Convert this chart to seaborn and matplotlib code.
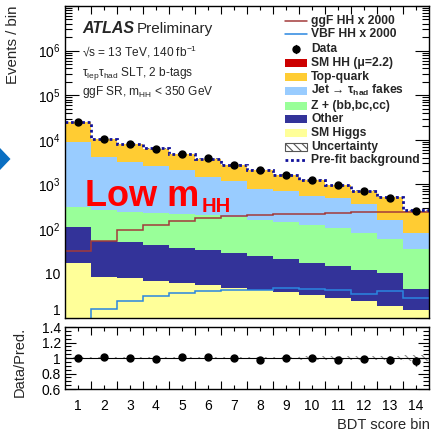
import numpy as np
import pandas as pd
import seaborn as sns
import matplotlib
matplotlib.use("Agg")
import matplotlib.pyplot as plt
from matplotlib.patches import Rectangle, Polygon
from matplotlib.lines import Line2D
from matplotlib.ticker import FixedLocator, MultipleLocator, LogLocator, NullFormatter

# BDT score bins and the yields
bins = list(range(1, 15))
top_quark = [15980, 6290, 4840, 3720, 2720, 2300, 1592, 1357, 945, 728, 485, 368, 365, 176]
jet_fakes = [8502, 3942, 3004, 2406, 1888, 1293, 1011, 633, 573, 428, 386, 279, 100, 47]
z_hf = [208, 214, 196, 190, 184, 173, 158, 136, 121, 107, 89, 68, 50, 31]
other = [93, 45, 43, 37, 32, 28, 24, 20, 17, 14, 12, 10, 8.3, 3.0]
sm_higgs = [17.1, 8.6, 7.9, 7.0, 6.3, 5.6, 4.7, 4.4, 3.8, 3.3, 2.9, 2.4, 1.9, 1.5]
sm_hh = [0.04, 0.06, 0.1, 0.14, 0.17, 0.2, 0.22, 0.23, 0.24, 0.25, 0.26, 0.27, 0.27, 0.28]
ggf_hh = [32, 54, 96, 124, 152, 180, 197, 207, 218, 222, 230, 238, 242, 246]
vbf_hh = [0.97, 1.6, 2.5, 3.1, 3.6, 4.0, 4.3, 4.2, 4.7, 4.5, 4.2, 3.5, 4.0, 2.8]
data = [24800, 10690, 8090, 6250, 4870, 3850, 2790, 2085, 1655, 1285, 949, 718, 509, 248]
prefit = [24900, 10500, 8100, 6400, 4850, 3800, 2800, 2150, 1670, 1280, 980, 730, 525, 262]
unc_rel = [0.01, 0.01, 0.01, 0.012, 0.012, 0.013, 0.015, 0.015, 0.017, 0.02, 0.022, 0.028, 0.032, 0.04]

processes = ["SM HH", "Top-quark", "Jet fakes", "Z+hf", "Other", "SM Higgs"]
colors = {"SM HH": "#cc0000", "Top-quark": "#ffcc33", "Jet fakes": "#99ccff",
          "Z+hf": "#99ff99", "Other": "#333399", "SM Higgs": "#ffff99"}
yields = {"SM HH": sm_hh, "Top-quark": top_quark, "Jet fakes": jet_fakes,
          "Z+hf": z_hf, "Other": other, "SM Higgs": sm_higgs}

rows = []
for p in processes:
    for b, v in zip(bins, yields[p]):
        rows.append({"bin": b, "events": v, "process": p})
df = pd.DataFrame(rows)

edges = np.arange(0.5, 15.0, 1.0)
total = np.sum([yields[p] for p in processes], axis=0)

sns.set_style("ticks")
plt.rcParams['font.family'] = ['Liberation Sans', 'DejaVu Sans']
plt.rcParams['mathtext.fontset'] = 'custom'
plt.rcParams['mathtext.rm'] = 'Liberation Sans'
plt.rcParams['mathtext.it'] = 'Liberation Sans:italic'
plt.rcParams['mathtext.bf'] = 'Liberation Sans:bold'
plt.rcParams['hatch.linewidth'] = 0.8

W, H = 433, 436
fig = plt.figure(figsize=(W / 100, H / 100), dpi=100)


def fig_box(x0, y0, x1, y1):
    return [x0 / W, 1 - y1 / H, (x1 - x0) / W, (y1 - y0) / H]


ax = fig.add_axes(fig_box(65, 6, 429, 318.3))
ax_r = fig.add_axes(fig_box(65, 327, 429, 389), sharex=ax)

# stacked backgrounds
sns.histplot(data=df, x="bin", weights="events", hue="process", hue_order=processes,
             palette=colors, multiple="stack", bins=list(edges), element="bars",
             alpha=1, linewidth=0, antialiased=False, legend=False, ax=ax)
ax.set_yscale("log")

ax.stairs(total * (1 + np.array(unc_rel)), edges, baseline=total * (1 - np.array(unc_rel)),
          fill=True, facecolor="none", edgecolor="#666666", hatch="\\\\\\\\", lw=0)
ax.stairs(ggf_hh, edges, baseline=None, color="#a33a3a", lw=1.1)
ax.stairs(vbf_hh, edges, baseline=None, color="#2a86e0", lw=1.1)
ax.stairs(prefit, edges, baseline=None, color="#10109a", lw=2.0, linestyle=(0, (1, 1)))
ax.errorbar(bins, data, yerr=np.sqrt(data), fmt="o", color="black", ms=5, lw=1, capsize=0, zorder=5)

ax.set_xlim(0.5, 14.5)
ax.set_ylim(1, 1e7)
ax.set_xlabel("")
ax.set_ylabel("")

# ratio panel
ratio = np.array(data) / total
ratio_err = np.sqrt(data) / total
ax_r.stairs(1 + np.array(unc_rel), edges, baseline=1 - np.array(unc_rel), fill=True,
            facecolor="none", edgecolor="#888888", hatch="\\\\\\\\", lw=0)
ax_r.axhline(1, color="black", lw=0.8)
ax_r.errorbar(bins, ratio, yerr=ratio_err, fmt="o", color="black", ms=5, lw=1, capsize=0, zorder=5)
ax_r.set_ylim(0.6, 1.4)
ax_r.set_ylabel("")
ax_r.set_xlabel("")

for a in (ax, ax_r):
    for s in a.spines.values():
        s.set_linewidth(1.0)
        s.set_color("black")
    a.tick_params(which="both", direction="in", top=True, right=True, colors="black", width=0.8)
    a.xaxis.set_major_locator(FixedLocator(bins))
    a.xaxis.set_minor_locator(FixedLocator(edges[1:-1]))
    a.tick_params(axis="x", which="major", length=3)
    a.tick_params(axis="x", which="minor", length=6)

ax.tick_params(axis="x", labelbottom=False)
ax.yaxis.set_major_locator(FixedLocator([1, 10, 1e2, 1e3, 1e4, 1e5, 1e6, 1e7]))
ax.set_yticklabels(["1", "10", "$10^{2}$", "$10^{3}$", "$10^{4}$", "$10^{5}$", "$10^{6}$", ""])
ax.get_yticklabels()[0].set_va("bottom")
ax.yaxis.set_minor_locator(LogLocator(base=10, subs=np.arange(2, 10), numticks=20))
ax.yaxis.set_minor_formatter(NullFormatter())
ax.tick_params(axis="y", which="major", length=10, labelsize=10, pad=3)
ax.tick_params(axis="y", which="minor", length=5)

ax_r.yaxis.set_major_locator(FixedLocator([0.6, 0.8, 1.0, 1.2, 1.4]))
ax_r.set_yticklabels(["0.6", "0.8", "1", "1.2", "1.4"])
ax_r.yaxis.set_minor_locator(MultipleLocator(0.05))
ax_r.tick_params(axis="y", which="major", length=8, labelsize=10, pad=3)
ax_r.tick_params(axis="y", which="minor", length=4)
ax_r.set_xticks(bins, [str(b) for b in bins])
ax_r.tick_params(axis="x", labelsize=10, pad=7)

# labels
fig.text(13 / W, 1 - 5 / H, "Events / bin", rotation=90, ha="center", va="top", fontsize=10.8)
fig.text(20 / W, 1 - 362 / H, "Data/Pred.", rotation=90, ha="center", va="center", fontsize=10.5)
fig.text(430 / W, 1 - 425 / H, "BDT score bin", ha="right", va="center", fontsize=10.5)

# ATLAS labels
ax.text(0.047, 0.9126, "ATLAS", transform=ax.transAxes, fontsize=11.5,
        fontweight="bold", fontstyle="italic")
ax.text(0.198, 0.9126, "Preliminary", transform=ax.transAxes, fontsize=11)
ax.text(0.047, 0.8367, "√s = 13 TeV, 140 fb$^{-1}$", transform=ax.transAxes, fontsize=8.6)
ax.text(0.047, 0.7758, r"τ$_{\mathregular{lep}}$τ$_{\mathregular{had}}$ SLT, 2 b-tags",
        transform=ax.transAxes, fontsize=8.6)
ax.text(0.047, 0.7150, r"ggF SR, m$_{\mathregular{HH}}$ < 350 GeV", transform=ax.transAxes, fontsize=8.6)

ax.text(0.055, 0.3596, "Low m", transform=ax.transAxes, fontsize=26, fontweight="bold",
        color="#ff0000", zorder=6)
ax.text(0.3755, 0.34, "HH", transform=ax.transAxes, fontsize=14.5, fontweight="bold",
        color="#ff0000", zorder=6)

# legend drawn by hand
def ay(py):
    return (318.3 - py) / 312.3


bx0, bx1, tx = (285 - 65) / 364, (307.3 - 65) / 364, (311 - 65) / 364
box_h = 8.3 / 312.3
entries = [
    ("line", "#a33a3a", "ggF HH x 2000", 20.7),
    ("line", "#2a86e0", "VBF HH x 2000", 34.3),
    ("data", "black", "Data", 49.3),
    ("box", colors["SM HH"], "SM HH (μ=2.2)", 63.3),
    ("box", colors["Top-quark"], "Top-quark", 77.3),
    ("box", colors["Jet fakes"], r"Jet → τ$_{\mathregular{had}}$ fakes", 90.7),
    ("box", colors["Z+hf"], "Z + (bb,bc,cc)", 106.0),
    ("box", colors["Other"], "Other", 119.3),
    ("box", colors["SM Higgs"], "SM Higgs", 133.3),
    ("hatch", "#555555", "Uncertainty", 146.7),
    ("dots", "#10109a", "Pre-fit background", 160.0),
]
for kind, col, label, py in entries:
    yc = ay(py)
    if kind == "line":
        ax.add_line(Line2D([bx0, bx1], [yc, yc], color=col, lw=1.1, transform=ax.transAxes))
    elif kind == "data":
        ax.add_line(Line2D([(bx0 + bx1) / 2], [yc], marker="o", ms=5, color=col,
                           transform=ax.transAxes))
        ax.add_line(Line2D([(bx0 + bx1) / 2] * 2, [yc - box_h / 2, yc + box_h / 2], color=col,
                           lw=1, transform=ax.transAxes))
    elif kind == "box":
        ax.add_patch(Rectangle((bx0, yc - box_h / 2), bx1 - bx0, box_h, facecolor=col,
                               edgecolor="none", transform=ax.transAxes, zorder=6))
    elif kind == "hatch":
        ax.add_patch(Rectangle((bx0, yc - box_h / 2), bx1 - bx0, box_h, facecolor="white",
                               edgecolor=col, hatch="\\\\\\\\", lw=0.8, transform=ax.transAxes, zorder=6))
    elif kind == "dots":
        ax.add_line(Line2D([bx0, bx1], [yc, yc], color=col, lw=2.0, linestyle=(0, (1, 1)),
                           transform=ax.transAxes))
    ax.text(tx, yc, label, transform=ax.transAxes, fontsize=8.7, fontweight="bold",
            va="center", ha="left", zorder=7)

# blue arrow from the slide at the left edge
fig.patches.append(Polygon([[0, 1 - 148 / H], [10.5 / W, 1 - 159 / H], [0, 1 - 170 / H]],
                           closed=True, facecolor="#0a6fc2", edgecolor="none",
                           transform=fig.transFigure, figure=fig))

fig.savefig("out.png", dpi=100)
